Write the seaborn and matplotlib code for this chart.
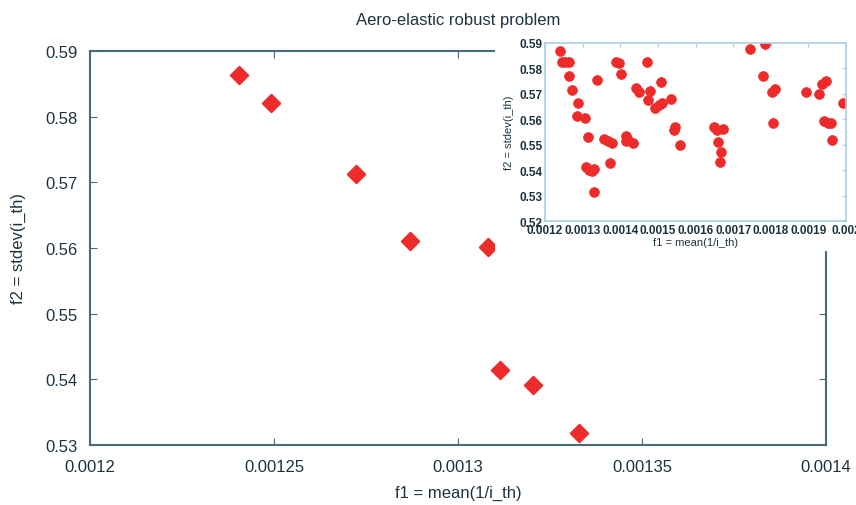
import matplotlib
matplotlib.use("Agg")
import matplotlib.pyplot as plt
from matplotlib.patches import Rectangle
from matplotlib.ticker import FuncFormatter
import seaborn as sns
import numpy as np
import pandas as pd

# front points shown in the main axes
front_f1 = [0.0012405, 0.0012492, 0.0012723, 0.0012870, 0.0013082, 0.0013114, 0.0013204, 0.0013329]
front_f2 = [0.5863, 0.5821, 0.5712, 0.5611, 0.5602, 0.5414, 0.5392, 0.5318]

# all points shown in the inset
inset_f1 = [0.001239, 0.001244, 0.001254, 0.001265, 0.001265, 0.001272, 0.001288, 0.001284,
            0.001305, 0.001315, 0.001310, 0.001318, 0.001325, 0.001330, 0.001331, 0.001338,
            0.001357, 0.001368, 0.001377, 0.001374, 0.001388, 0.001397, 0.001403, 0.001414,
            0.001420, 0.001416, 0.001434, 0.001441, 0.001450, 0.001472, 0.001480, 0.001474,
            0.001493, 0.001502, 0.001510, 0.001509, 0.001536, 0.001545, 0.001542, 0.001558,
            0.001648, 0.001657, 0.001674, 0.001659, 0.001668, 0.001664, 0.001745, 0.001784,
            0.001780, 0.001802, 0.001812, 0.001805, 0.001894, 0.001927, 0.001935, 0.001948,
            0.001941, 0.001953, 0.001959, 0.001963, 0.001993]
inset_f2 = [0.5867, 0.5824, 0.5824, 0.5824, 0.5769, 0.5715, 0.5663, 0.5611,
            0.5604, 0.5532, 0.5411, 0.5401, 0.5397, 0.5404, 0.5315, 0.5753,
            0.5523, 0.5516, 0.5506, 0.5427, 0.5824, 0.5821, 0.5778, 0.5536,
            0.5519, 0.5515, 0.5506, 0.5725, 0.5709, 0.5824, 0.5712, 0.5677,
            0.5646, 0.5657, 0.5663, 0.5746, 0.5681, 0.5571, 0.5558, 0.5499,
            0.5571, 0.5558, 0.5561, 0.5512, 0.5473, 0.5431, 0.5878, 0.5896,
            0.5769, 0.5707, 0.5719, 0.5587, 0.5707, 0.5699, 0.5740, 0.5749,
            0.5594, 0.5587, 0.5585, 0.5519, 0.5663]

main_xticks = [0.0012, 0.00125, 0.0013, 0.00135, 0.0014]
main_yticks = [0.53, 0.54, 0.55, 0.56, 0.57, 0.58, 0.59]
inset_xticks = [0.0012, 0.0013, 0.0014, 0.0015, 0.0016, 0.0017, 0.0018, 0.0019, 0.002]
inset_yticks = [0.52, 0.53, 0.54, 0.55, 0.56, 0.57, 0.58, 0.59]

front = pd.DataFrame({"f1": front_f1, "f2": front_f2})
allpts = pd.DataFrame({"f1": inset_f1, "f2": inset_f2})

sns.set_style("white")
plt.rcParams["font.family"] = ["Liberation Sans", "DejaVu Sans"]

red = "#ee2b2b"
txt = "#1e3340"
g = FuncFormatter(lambda v, p: "%g" % v)

fig = plt.figure(figsize=(8.56, 5.06), dpi=100)
ax = fig.add_axes([90 / 856, 1 - 446 / 506, 736 / 856, 394 / 506])
sns.scatterplot(data=front, x="f1", y="f2", ax=ax, marker="D", s=80, color=red,
                edgecolor=red, linewidth=1.4)
ax.set_xlim(0.0012, 0.0014)
ax.set_ylim(0.53, 0.59)
ax.set_xticks(main_xticks)
ax.set_yticks(main_yticks)
ax.xaxis.set_major_formatter(g)
ax.yaxis.set_major_formatter(g)
ax.tick_params(axis="x", direction="in", top=True, bottom=True, length=5, pad=10,
               labelsize=12, colors="#4a6a7a", labelcolor=txt)
ax.tick_params(axis="y", direction="in", left=True, right=True, length=5, pad=9,
               labelsize=12, colors="#4a6a7a", labelcolor=txt)
for s in ax.spines.values():
    s.set_color("#4a6a7a")
    s.set_linewidth(1.5)
ax.set_xlabel("f1 = mean(1/i_th)", fontsize=12, color=txt, labelpad=8)
ax.set_ylabel("f2 = stdev(i_th)", fontsize=12, color=txt, labelpad=14)
ax.set_zorder(0)

# white card behind the inset, hides the main frame there
fig.patches.append(Rectangle((495 / 856, 1 - 252 / 506), 361 / 856, 218 / 506,
                             transform=fig.transFigure, facecolor="white",
                             edgecolor="none", zorder=2))

fig.text(458 / 856, 1 - 20 / 506, "Aero-elastic robust problem", fontsize=12,
         color=txt, ha="center", va="center", zorder=5)

ins = fig.add_axes([545 / 856, 1 - 222 / 506, 301 / 856, 178 / 506])
ins.set_zorder(3)
sns.scatterplot(data=allpts, x="f1", y="f2", ax=ins, marker="o", s=50, color=red,
                edgecolor=red, linewidth=0.5)
ins.set_xlim(0.0012, 0.002)
ins.set_ylim(0.52, 0.59)
ins.set_xticks(inset_xticks)
ins.set_yticks(inset_yticks)
ins.xaxis.set_major_formatter(g)
ins.yaxis.set_major_formatter(g)
ins.tick_params(direction="in", length=3, pad=2, labelsize=8.5, colors="#a9cfe3",
                labelcolor=txt, top=True, right=True)
for lab in ins.get_xticklabels() + ins.get_yticklabels():
    lab.set_fontweight("bold")
for s in ins.spines.values():
    s.set_color("#a9cfe3")
    s.set_linewidth(1.2)
ins.set_xlabel("f1 = mean(1/i_th)", fontsize=8, color=txt, labelpad=1)
ins.set_ylabel("f2 = stdev(i_th)", fontsize=8, color=txt, labelpad=4)

fig.savefig("out.png", dpi=100)
